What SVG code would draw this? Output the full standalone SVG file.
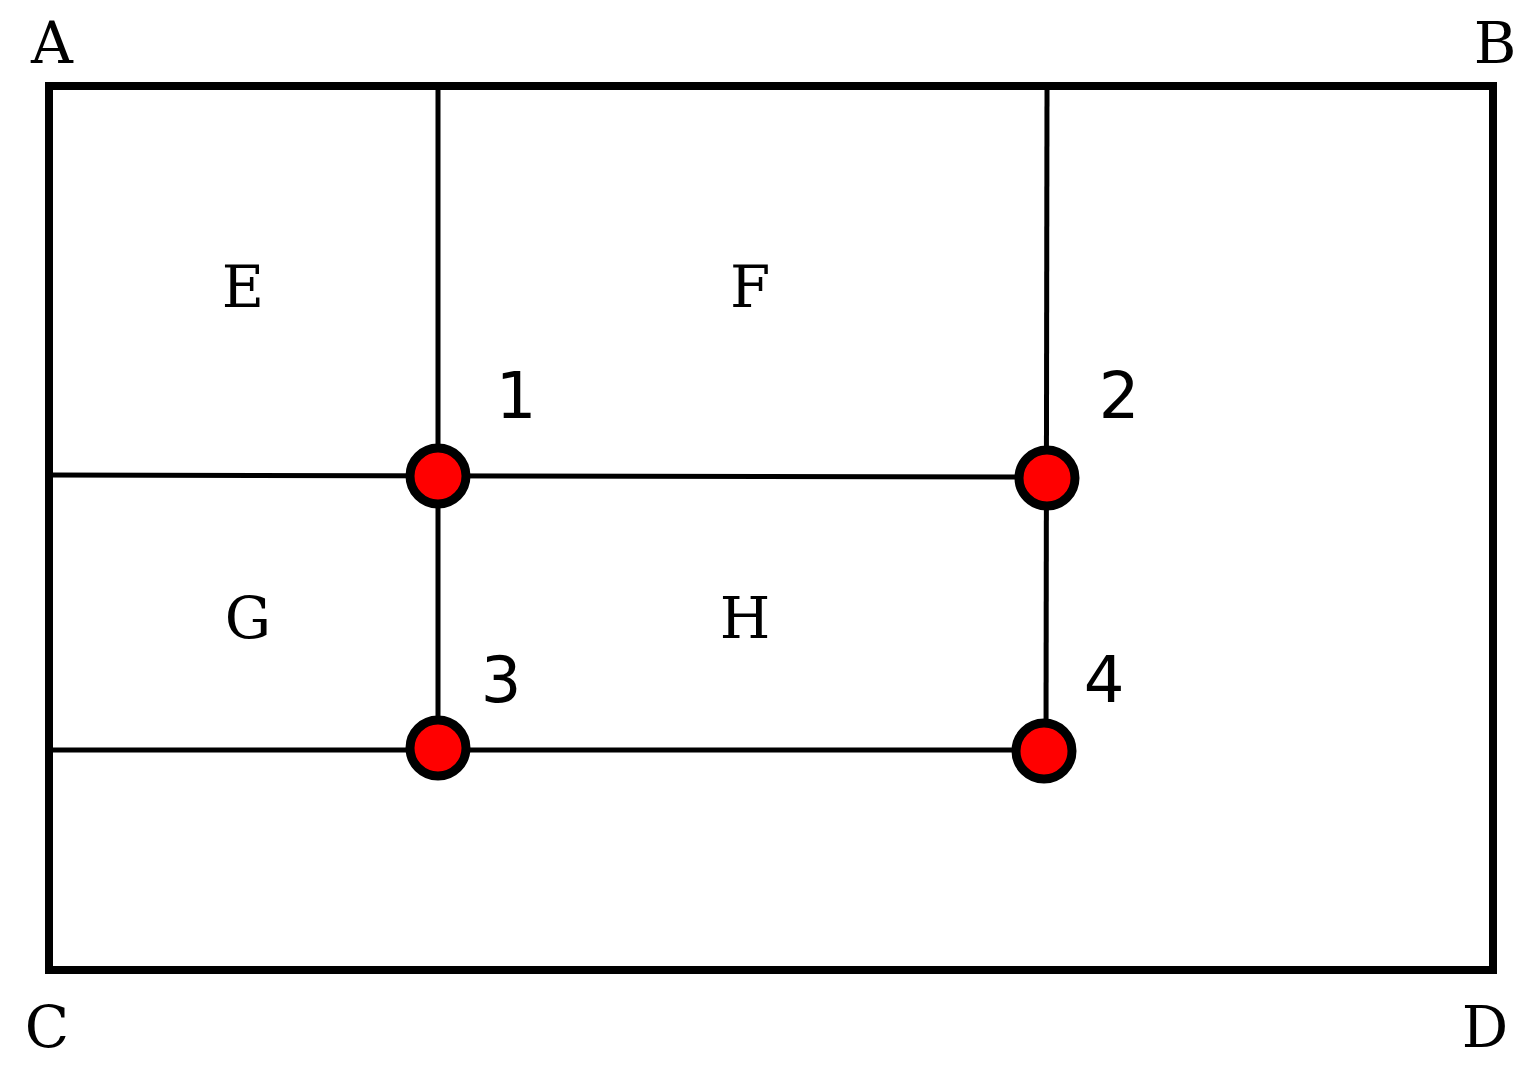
<svg xmlns="http://www.w3.org/2000/svg" width="1535" height="1080" viewBox="0 0 1535 1080">
<style>
.s{font-family:"DejaVu Serif","Liberation Serif",serif;font-size:58px;text-anchor:middle}
.n{font-family:"DejaVu Sans","Liberation Sans",sans-serif;font-size:64px;text-anchor:middle}
.l{stroke:#000;stroke-width:5;fill:none}
.c{fill:#f00;stroke:#000;stroke-width:9}
</style>
<rect width="1535" height="1080" fill="#fff"/>
<g id="connectors">
<rect x="49" y="86" width="1444" height="884" fill="none" stroke="#000" stroke-width="8"/>
<line class="l" x1="438" y1="86" x2="438" y2="748"/>
<line class="l" x1="1047" y1="86" x2="1046" y2="751"/>
<line class="l" x1="49" y1="475" x2="1047" y2="477"/>
<line class="l" x1="49" y1="750" x2="1044" y2="750"/>
</g>
<g id="n1"><circle class="c" cx="438" cy="476" r="28"/><text class="n" x="516" y="418">1</text></g>
<g id="n2"><circle class="c" cx="1047" cy="478" r="28"/><text class="n" x="1119" y="418">2</text></g>
<g id="n3"><circle class="c" cx="438" cy="748" r="28"/><text class="n" x="501" y="702">3</text></g>
<g id="n4"><circle class="c" cx="1044" cy="751" r="28"/><text class="n" x="1104" y="702">4</text></g>
<g id="labels">
<text class="s" x="52" y="63">A</text>
<text class="s" x="1495" y="63">B</text>
<text class="s" x="47" y="1047">C</text>
<text class="s" x="1485" y="1047">D</text>
<text class="s" x="243" y="307">E</text>
<text class="s" x="750" y="307">F</text>
<text class="s" x="248" y="638">G</text>
<text class="s" x="745" y="638">H</text>
</g>
</svg>
